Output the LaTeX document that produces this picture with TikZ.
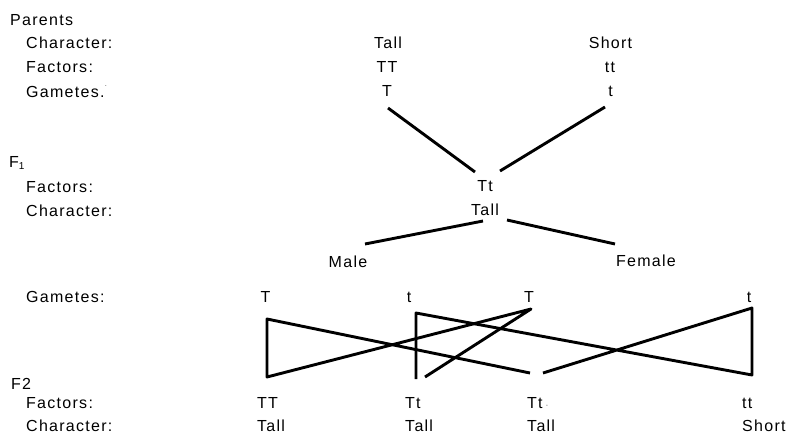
\documentclass[tikz,border=0pt]{standalone}
\usepackage{fontspec}
\setmainfont[LetterSpace=8]{Liberation Sans}
\begin{document}
\begin{tikzpicture}[x=1pt,y=-1pt,
  txt/.style={inner sep=0pt, font=\fontsize{16}{18}\selectfont},
  lab/.style={txt, anchor=base west},
  ctr/.style={txt, anchor=base},
  ln/.style={line width=2.9pt, line join=round}]
\useasboundingbox (0,0) rectangle (792,434);
% left labels
\node[lab] (parents) at (10,25) {Parents};
\node[lab] (pchar) at (26,48.5) {Character:};
\node[lab] (pfac) at (26,72.5) {Factors:};
\node[lab] (pgam) at (26,97) {Gametes.\raisebox{1.2ex}{\color{gray}\fontsize{9}{9}\selectfont .}};
\node[lab] (f1) at (9,167) {F\raisebox{-0.35ex}{\fontsize{10}{10}\selectfont 1}};
\node[lab] (f1fac) at (26,192) {Factors:};
\node[lab] (f1char) at (26,216) {Character:};
\node[lab] (f1gam) at (26,302.5) {Gametes:};
\node[lab] (f2) at (11,389) {F2};
\node[lab] (f2fac) at (26,408.5) {Factors:};
\node[lab] (f2char) at (26,431.5) {Character:};
% parents
\node[ctr] (tall) at (388,48.5) {Tall};
\node[ctr] (short) at (610.5,48.5) {Short};
\node[ctr] (TT) at (387,72) {TT};
\node[ctr] (tt) at (610,72) {tt};
\node[ctr] (gT) at (387,96.7) {T};
\node[ctr] (gt) at (610.5,96.7) {t};
% F1
\node[ctr] (Tt) at (485,191) {Tt};
\node[ctr] (f1tall) at (485,215.5) {Tall};
\node[ctr] (male) at (348,267.5) {Male};
\node[ctr] (female) at (646,266) {Female};
% F2 gametes
\node[ctr] (g1) at (265.5,302) {T};
\node[ctr] (g2) at (409,302) {t};
\node[ctr] (g3) at (529,302) {T};
\node[ctr] (g4) at (749,302) {t};
% F2 offspring
\node[lab] (o1) at (257,408.5) {TT};
\node[lab] (o2) at (405,408.5) {Tt};
\node[lab] (o3) at (527,408.5) {Tt\,{\color{gray}\fontsize{10}{10}\selectfont ·}};
\node[lab] (o4) at (742,408.5) {tt};
\node[lab] (c1) at (257,431.5) {Tall};
\node[lab] (c2) at (405,431.5) {Tall};
\node[lab] (c3) at (527,431.5) {Tall};
\node[lab] (c4) at (742,431.5) {Short};
% connector end points
\coordinate (a1) at (388,108); \coordinate (a2) at (475,172);
\coordinate (b1) at (605,107); \coordinate (b2) at (500,171);
\coordinate (m1) at (483,221); \coordinate (m2) at (365,244);
\coordinate (n1) at (507,220); \coordinate (n2) at (615,244);
\coordinate (L1) at (267,319); \coordinate (L2) at (267,377);
\coordinate (M1) at (416,313); \coordinate (M2) at (416,379);
\coordinate (A3) at (531,309);
\coordinate (R1) at (752,308); \coordinate (R2) at (752,375);
\coordinate (E3) at (530,373); \coordinate (E2) at (425,377);
\coordinate (E3b) at (543,373);
\draw[ln] (a1) -- (a2);
\draw[ln] (b1) -- (b2);
\draw[ln] (m1) -- (m2);
\draw[ln] (n1) -- (n2);
\draw[ln] (E3) -- (L1) -- (L2) -- (A3) -- (E2);
\draw[ln] (E3b) -- (R1) -- (R2) -- (M1) -- (M2);
\end{tikzpicture}
\end{document}
